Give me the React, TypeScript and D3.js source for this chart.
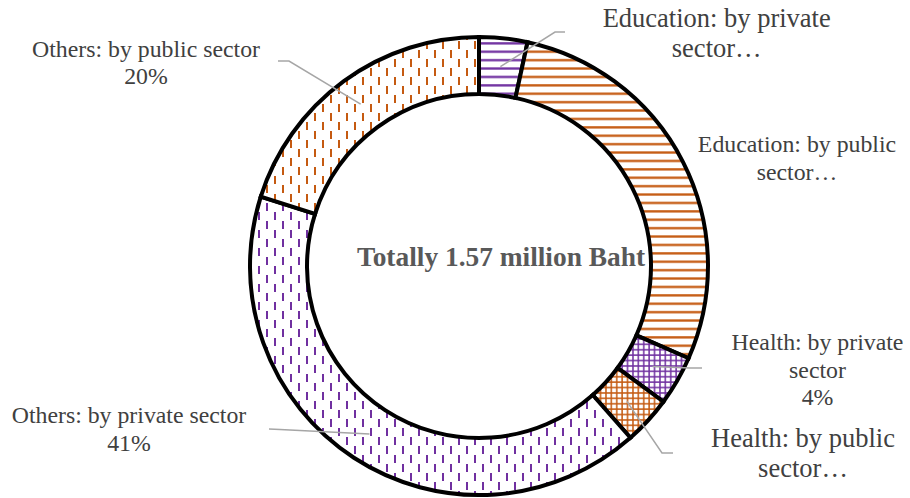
import React from "react";
import * as d3 from "d3";

// ---- data ----
const categories = [
  "Education: by private sector",
  "Education: by public sector",
  "Health: by private sector",
  "Health: by public sector",
  "Others: by private sector",
  "Others: by public sector",
];
const values = [3.4, 28.2, 3.5, 3.4, 41.4, 20.1];
const labelLines = [
  ["Education: by private", "sector…"],
  ["Education: by public", "sector…"],
  ["Health: by private", "sector", "4%"],
  ["Health: by public", "sector…"],
  ["Others: by private sector", "41%"],
  ["Others: by public sector", "20%"],
];
const centerTitle = "Totally 1.57 million Baht";

// ---- styles / layout ----
const W = 910;
const H = 498;
const CX = 479;
const CY = 266;
const R_OUT = 229;
const R_IN = 172;
const PURPLE = "#7030A0";
const ORANGE = "#C55A11";
const sliceColors = [PURPLE, ORANGE, PURPLE, ORANGE, PURPLE, ORANGE];
const sliceKinds = ["hlines", "hlines", "grid", "grid", "vdash", "vdash"];

type LabelLayout = {
  x: number;
  y: number;
  size: number;
  lh: number;
  leader: [number, number][] | null;
};
const labelLayout: LabelLayout[] = [
  { x: 716.7, y: 27, size: 26.5, lh: 30, leader: [[555, 32], [565, 32]] },
  { x: 797, y: 152, size: 23.8, lh: 28, leader: null },
  { x: 817.5, y: 350, size: 23.8, lh: 27.5, leader: [[690, 368], [702, 368]] },
  { x: 803, y: 447, size: 26.5, lh: 30, leader: [[662, 453], [673, 453]] },
  { x: 129, y: 423, size: 23.8, lh: 27.5, leader: [[280, 429.5], [269, 429]] },
  { x: 146, y: 57, size: 23.8, lh: 26.5, leader: [[289, 61], [278, 61]] },
];

const FONT = "'Liberation Serif', 'Times New Roman', Times, serif";

function patternDef(kind: string, color: string, id: string) {
  if (kind === "hlines") {
    return (
      <pattern key={id} id={id} patternUnits="userSpaceOnUse" width={8} height={8.4}>
        <rect width={8} height={8.4} fill="#fff" />
        <rect x={0} y={3} width={8} height={2.3} fill={color} />
      </pattern>
    );
  }
  if (kind === "grid") {
    return (
      <pattern key={id} id={id} patternUnits="userSpaceOnUse" width={5.4} height={5.4}>
        <rect width={5.4} height={5.4} fill="#fff" />
        <rect x={0} y={2} width={5.4} height={1.5} fill={color} />
        <rect x={2} y={0} width={1.5} height={5.4} fill={color} />
      </pattern>
    );
  }
  return (
    <pattern key={id} id={id} patternUnits="userSpaceOnUse" width={16} height={18}>
      <rect width={16} height={18} fill="#fff" />
      <rect x={3} y={0} width={2} height={8} fill={color} />
      <rect x={11} y={9} width={2} height={8} fill={color} />
    </pattern>
  );
}

export default function App() {
  const pie = d3
    .pie<number>()
    .sort(null)
    .value((d) => d)
    .startAngle(0)
    .endAngle(2 * Math.PI);
  const arcs = pie(values);
  const arc = d3.arc<d3.PieArcDatum<number>>().innerRadius(R_IN).outerRadius(R_OUT);
  const midArc = d3
    .arc<d3.PieArcDatum<number>>()
    .innerRadius((R_IN + R_OUT) / 2)
    .outerRadius((R_IN + R_OUT) / 2);
  const line = d3.line();

  return (
    <svg
      width={W}
      height={H}
      style={{ position: "absolute", left: 0, top: 0, background: "#fff" }}
    >
      <defs>
        {categories.map((_, i) => patternDef(sliceKinds[i], sliceColors[i], `pat${i}`))}
      </defs>
      <g transform={`translate(${CX},${CY})`}>
        {arcs.map((a, i) => (
          <path
            key={categories[i]}
            d={arc(a) || ""}
            fill={`url(#pat${i})`}
            stroke="#000"
            strokeWidth={4}
            strokeLinejoin="miter"
          />
        ))}
      </g>
      {arcs.map((a, i) => {
        const lay = labelLayout[i];
        if (!lay.leader) return null;
        const c = midArc.centroid(a);
        const pts: [number, number][] = [[c[0] + CX, c[1] + CY], ...lay.leader];
        return (
          <path
            key={"lead" + i}
            d={line(pts) || ""}
            fill="none"
            stroke="#A6A6A6"
            strokeWidth={1.5}
          />
        );
      })}
      {labelLines.map((lines, i) => {
        const lay = labelLayout[i];
        return (
          <text
            key={"lab" + i}
            x={lay.x}
            y={lay.y}
            fontFamily={FONT}
            fontSize={lay.size}
            fill="#404040"
            textAnchor="middle"
          >
            {lines.map((t, j) => (
              <tspan key={j} x={lay.x} y={lay.y + j * lay.lh}>
                {t}
              </tspan>
            ))}
          </text>
        );
      })}
      <text
        x={501}
        y={266}
        fontFamily={FONT}
        fontSize={27.4}
        fontWeight="bold"
        fill="#595959"
        textAnchor="middle"
      >
        {centerTitle}
      </text>
    </svg>
  );
}
